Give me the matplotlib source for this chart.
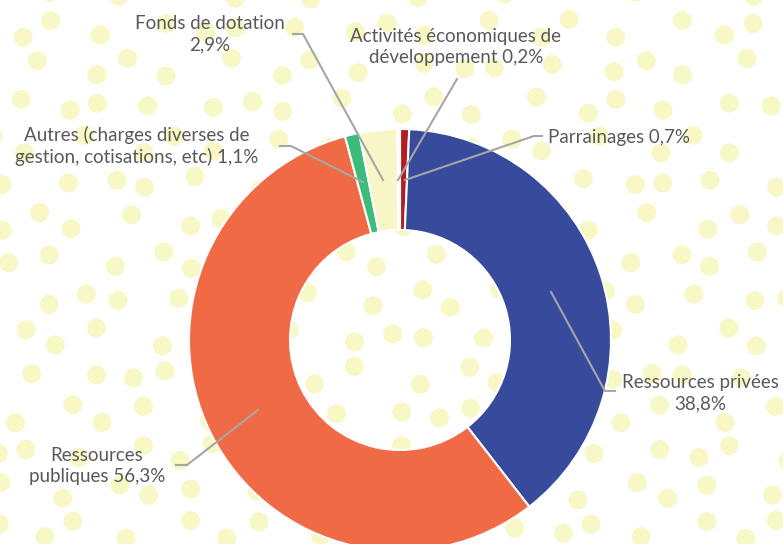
import numpy as np
import matplotlib.pyplot as plt
from matplotlib.patches import Circle

# donut data, clockwise from 12 o'clock
labels = ["Parrainages 0,7%",
          "Ressources privées\n38,8%",
          "Ressources\npubliques 56,3%",
          "Autres (charges diverses de\ngestion, cotisations, etc) 1,1%",
          "Fonds de dotation\n2,9%",
          "Activités économiques de\ndéveloppement 0,2%"]
values = [0.7, 38.8, 56.3, 1.1, 2.9, 0.2]
colors = ["#B01E23", "#374A9C", "#F06B45", "#3DBB7A", "#F8F6C6", "#FFFFFF"]

W, H = 783, 544
fig = plt.figure(figsize=(W / 100, H / 100), dpi=100)
ax = fig.add_axes([0, 0, 1, 1])

# polka-dot background (deterministic jittered grid)
step = 47
for i, gy in enumerate(np.arange(-10, H + 30, step * 0.82)):
    for j, gx in enumerate(np.arange(-10, W + 30, step)):
        ox = 13 * np.sin(i * 2.3 + j * 1.7) + (step / 2 if i % 2 else 0)
        oy = 9 * np.sin(i * 1.3 + j * 2.9)
        ax.add_patch(Circle((gx + ox, H - (gy + oy)), 9.5, color="#F8F7C6",
                            lw=0, zorder=0))

cx, cy = 400, H - 340
R, r = 211, 110
wedges, _ = ax.pie(values, colors=colors, startangle=90, counterclock=False,
                   center=(cx, cy), radius=R,
                   wedgeprops=dict(width=R - r, edgecolor="white", linewidth=1.5))
for w in wedges:
    w.set_zorder(2)

ax.set_xlim(0, W)
ax.set_ylim(0, H)
ax.set_aspect("equal")
ax.axis("off")

txt = dict(color="#595959", fontsize=13.5, family="Lato", zorder=5,
           linespacing=1.3)
lc = dict(color="#A6A6A6", lw=1.5, zorder=4)

def leader(pts):
    xs = [p[0] for p in pts]
    ys = [H - p[1] for p in pts]
    ax.plot(xs, ys, **lc)

# label positions in image pixels
ax.text(548, H - 137, labels[0], ha="left", va="center", **txt)
leader([(542, 136), (534, 136), (405, 180)])

ax.text(700, H - 393, labels[1], ha="center", va="center", **txt)
leader([(551, 292), (605, 391), (615, 391)])

ax.text(97, H - 466, labels[2], ha="center", va="center", **txt)
leader([(258, 410), (187, 465), (176, 465)])

ax.text(137, H - 146, labels[3], ha="center", va="center", **txt)
leader([(280, 146), (291, 146), (363, 182)])

ax.text(210, H - 34, labels[4], ha="center", va="center", **txt)
leader([(293, 34), (303, 34), (383, 180)])

ax.text(456, H - 47, labels[5], ha="center", va="center", **txt)
leader([(457, 79), (398, 180)])

fig.savefig("out.png", dpi=100, facecolor="white")
